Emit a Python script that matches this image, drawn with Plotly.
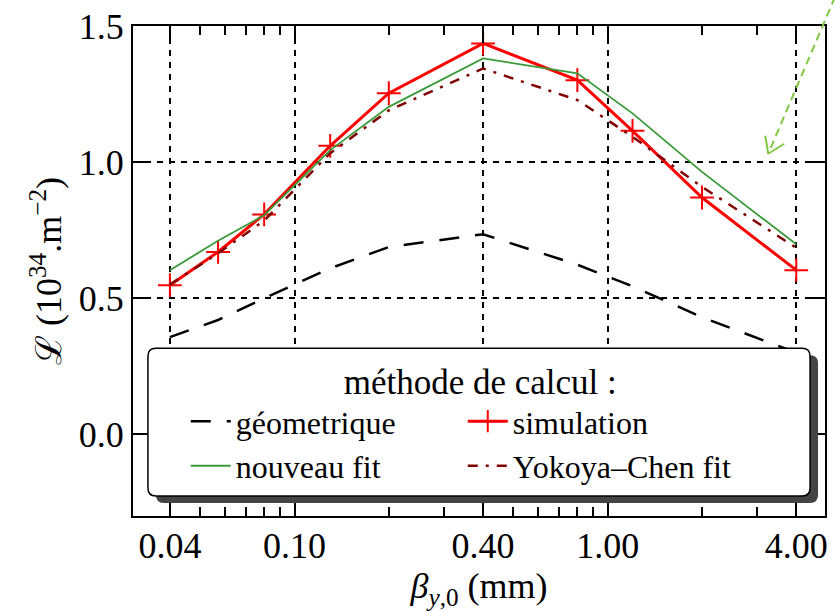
import math
import plotly.graph_objects as go

# ---- data ----
beta = [0.04, 0.057, 0.08, 0.13, 0.2, 0.4, 0.8, 1.2, 2.0, 4.0]
L_geo = [0.357, 0.42, 0.50, 0.61, 0.688, 0.735, 0.623, 0.544, 0.43, 0.30]
L_sim = [0.548, 0.670, 0.808, 1.060, 1.253, 1.436, 1.301, 1.115, 0.870, 0.603]
L_new = [0.603, 0.711, 0.805, 1.044, 1.203, 1.381, 1.326, 1.179, 0.964, 0.698]
L_yc = [0.55, 0.665, 0.785, 1.033, 1.19, 1.344, 1.228, 1.093, 0.909, 0.685]

x_ticks = [0.04, 0.1, 0.4, 1.0, 4.0]
x_ticktext = ["0.04", "0.10", "0.40", "1.00", "4.00"]
x_minor = [0.04, 0.05, 0.06, 0.07, 0.08, 0.09, 0.1, 0.2, 0.3, 0.4, 0.5, 0.6, 0.7,
           0.8, 0.9, 1.0, 2.0, 3.0, 4.0]
y_ticks = [0.0, 0.5, 1.0, 1.5]
y_ticktext = ["0.0", "0.5", "1.0", "1.5"]

FONT = "Liberation Serif"
W, H = 835, 612
ML, MR, MT, MB = 133, 7, 25, 96
PW, PH = W - ML - MR, H - MT - MB

fig = go.Figure()
fig.add_trace(go.Scatter(x=beta, y=L_geo, mode="lines", name="géometrique",
                         line=dict(color="black", width=2.5, dash="20px,16px")))
fig.add_trace(go.Scatter(x=beta, y=L_sim, mode="lines+markers", name="simulation",
                         line=dict(color="#ff0000", width=3),
                         marker=dict(symbol="cross-thin", size=17,
                                     line=dict(color="#ff0000", width=2))))
fig.add_trace(go.Scatter(x=beta, y=L_new, mode="lines", name="nouveau fit",
                         line=dict(color="#3a9a3a", width=1.8)))
fig.add_trace(go.Scatter(x=beta, y=L_yc, mode="lines", name="Yokoya–Chen fit",
                         line=dict(color="#800000", width=2.5, dash="10px,8px,3px,8px")))


def px2paper(px, py):
    return (px - ML) / PW, (H - MB - py) / PH


def rounded_rect(x0, y0, x1, y1, r=8):
    rx, ry = r / PW, r / PH
    a0, b1 = px2paper(x0, y0)
    a1, b0 = px2paper(x1, y1)
    return (f"M{a0+rx},{b1} L{a1-rx},{b1} Q{a1},{b1} {a1},{b1-ry} "
            f"L{a1},{b0+ry} Q{a1},{b0} {a1-rx},{b0} L{a0+rx},{b0} "
            f"Q{a0},{b0} {a0},{b0+ry} L{a0},{b1-ry} Q{a0},{b1} {a0+rx},{b1} Z")


shapes = []
# legend shadow and frame
shapes.append(dict(type="path", xref="paper", yref="paper", layer="above",
                   path=rounded_rect(156, 355, 821, 503), fillcolor="#444444",
                   line=dict(width=0)))
shapes.append(dict(type="path", xref="paper", yref="paper", layer="above",
                   path=rounded_rect(148, 348, 813, 496), fillcolor="white",
                   line=dict(color="black", width=1.5)))
# green dashed arrow (annotation)
sx, sy = px2paper(838, -4)
tx, ty = px2paper(771, 153)
shapes.append(dict(type="line", xref="paper", yref="paper", layer="above",
                   x0=sx, y0=sy, x1=tx, y1=ty,
                   line=dict(color="#80c844", width=2, dash="8px,5px")))
for wx, wy in [(768, 135), (787, 143)]:
    a, b = px2paper(wx, wy)
    shapes.append(dict(type="line", xref="paper", yref="paper", layer="above",
                       x0=a, y0=b, x1=tx, y1=ty,
                       line=dict(color="#80c844", width=2)))

lx, ly = px2paper(186, 348)
NB = "\u00a0"

fig.update_layout(
    width=W, height=H,
    margin=dict(l=ML, r=MR, t=MT, b=MB),
    paper_bgcolor="white", plot_bgcolor="white",
    font=dict(family=FONT, size=36, color="black"),
    showlegend=True,
    shapes=shapes,
    legend=dict(
        orientation="h", x=lx, y=ly, xanchor="left", yanchor="top",
        bgcolor="rgba(0,0,0,0)", borderwidth=0,
        font=dict(family=FONT, size=32, color="black"),
        title=dict(text=NB * 4 + "méthode de calcul :", side="top center",
                   font=dict(family=FONT, size=35, color="black")),
        entrywidth=222, traceorder="normal", itemwidth=40,
    ),
    xaxis=dict(
        type="log", range=[math.log10(0.0305), math.log10(4.94)],
        tickvals=x_ticks, ticktext=x_ticktext,
        ticks="inside", ticklen=17, tickwidth=1.5, tickcolor="black",
        showline=True, linecolor="black", linewidth=2, mirror="allticks",
        showgrid=True, gridcolor="black", gridwidth=1.5, griddash="6px,6px",
        minor=dict(tickvals=x_minor, ticks="inside", ticklen=9, tickwidth=1.5,
                   tickcolor="black", showgrid=False),
        zeroline=False,
        ticklabelstandoff=-3,
        tickfont=dict(family=FONT, size=36),
        title=dict(text="<i>β</i><sub><i>y</i>,0</sub> (mm)",
                   font=dict(family=FONT, size=36), standoff=0),
    ),
    yaxis=dict(
        range=[-0.3, 1.5],
        tickvals=y_ticks, ticktext=y_ticktext,
        ticks="inside", ticklen=17, tickwidth=1.5, tickcolor="black",
        showline=True, linecolor="black", linewidth=2, mirror="allticks",
        showgrid=True, gridcolor="black", gridwidth=1.5, griddash="6px,6px",
        zeroline=False,
        tickfont=dict(family=FONT, size=36),
        title=dict(text="ℒ (10<sup>34</sup>.m<sup>−2</sup>)",
                   font=dict(family=FONT, size=36), standoff=6),
    ),
)

fig.write_html("out.html")
